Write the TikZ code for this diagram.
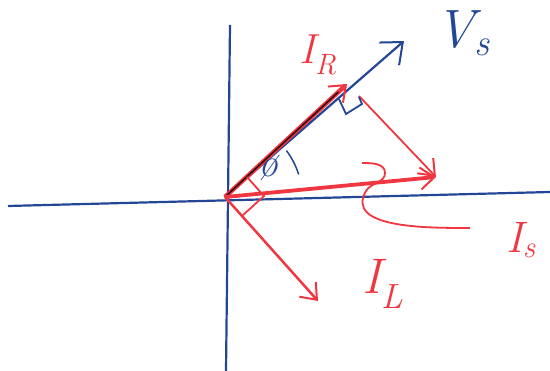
\documentclass[tikz,border=0pt]{standalone}
\usepackage{tikz}
\usetikzlibrary{positioning,arrows.meta,calc}
\definecolor{penblue}{RGB}{35, 70, 150}
\definecolor{penred}{RGB}{240, 55, 65}

\begin{document}
\begin{tikzpicture}[x=1pt, y=-1pt,
    axis/.style={penblue, line width=2.2pt},
    phasor/.style={penred, line width=2.5pt, -{Straight Barb[length=14pt, width=22pt, line width=2pt]}},
    thinred/.style={penred, line width=1.8pt},
    lbl/.style={inner sep=0pt, font=\fontsize{50}{50}\selectfont\itshape}
]
    \useasboundingbox (0,0) rectangle (550,371);

    % points
    \coordinate (O) at (225,197);
    \coordinate (irtip) at (347,84);
    \coordinate (vstip) at (404,41);
    \coordinate (iltip) at (318,301);
    \coordinate (istip) at (436,177);
    \coordinate (shift) at (359,96);
    \coordinate (lead) at (470,228);

    % axes
    \draw[axis] (8,206) -- (550,192);
    \draw[axis] (230,25) -- (226,371);

    % phasors
    \draw[penblue, line width=2.2pt, -{Straight Barb[length=18pt, width=30pt, line width=2pt]}] (O) -- (vstip);
    \draw[phasor, line width=4.5pt] (O) -- (irtip);
    \draw[black!80!penred, line width=1.5pt] (O) -- ($(O)!0.93!(irtip)$);
    \draw[phasor] (O) -- (iltip);
    \draw[phasor, line width=3.8pt] (O) -- (istip);
    \draw[phasor, line width=1.8pt] (shift) -- (istip);

    % right-angle marks
    \draw[thinred] (247,177) -- (264,196) -- (242,216);
    \draw[penblue, line width=1.8pt] (339,99) -- (346,114) -- (362,104) -- (359,97);

    % angle
    \draw[penblue, line width=1.5pt] (O) ++(-17:77) arc[start angle=-17, end angle=-37, radius=77];
    \node[inner sep=0pt, text=penblue, font=\fontsize{40}{40}\selectfont\itshape] (phi) at (268,168) {ø};

    % leader to I_s
    \draw[thinred] (362,163) to[out=0, in=90] (385,173) to[out=-90, in=60] (366,191)
        to[out=-120, in=180] (lead);

    % labels
    \node[lbl, text=penblue, font=\fontsize{54}{54}\selectfont\itshape] (vslbl) at (463,33) {V\textsubscript{s}};
    \node[lbl, text=penred, font=\fontsize{42}{42}\selectfont\itshape] (irlbl) at (318,55) {I\textsubscript{R}};
    \node[lbl, text=penred, font=\fontsize{44}{44}\selectfont\itshape] (islbl) at (521,240) {I\textsubscript{s}};
    \node[lbl, text=penred] (illbl) at (383,284) {I\textsubscript{L}};
\end{tikzpicture}
\end{document}
